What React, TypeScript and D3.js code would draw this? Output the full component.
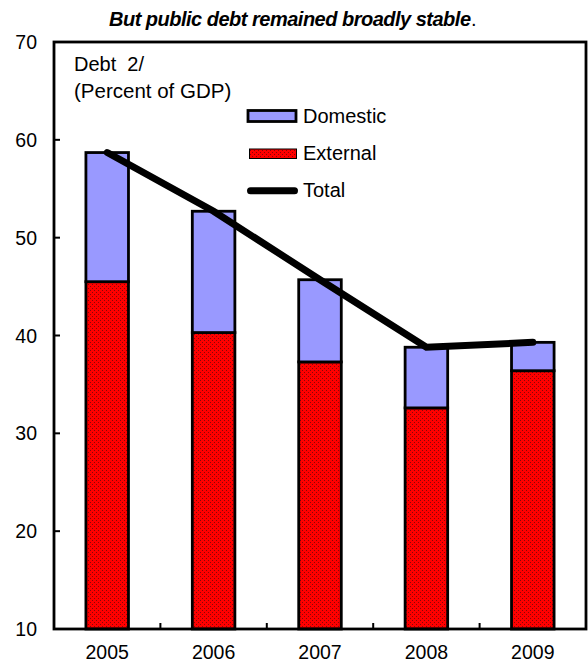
import React from "react";
import * as d3 from "d3";

// Public debt, percent of GDP
const years = ["2005", "2006", "2007", "2008", "2009"];
const externalDebt = [45.5, 40.3, 37.3, 32.6, 36.4];
const domesticDebt = [13.2, 12.4, 8.4, 6.2, 2.9];
const yTicks = [10, 20, 30, 40, 50, 60, 70];

const titleText = "But public debt remained broadly stable";
const axisTitle1 = "Debt  2/";
const axisTitle2 = "(Percent of GDP)";
const legendLabels = ["Domestic", "External", "Total"];

const W = 588;
const H = 664;
const FONT = "'Liberation Sans', Arial, Helvetica, sans-serif";
const BLUE = "#9999FF";
const RED = "#FF0000";

export default function App() {
  const left = 54;
  const right = 586;
  const top = 42;
  const bottom = 629;

  const x = d3.scaleBand<string>().domain(years).range([left, right]).padding(0);
  const y = d3.scaleLinear().domain([10, 70]).range([bottom, top]);

  const barW = x.bandwidth() * 0.4;
  const totals = years.map((_, i) => externalDebt[i] + domesticDebt[i]);

  const line = d3
    .line<number>()
    .x((_, i) => (x(years[i]) as number) + x.bandwidth() / 2)
    .y((d) => y(d));

  return (
    <svg width={W} height={H} style={{ display: "block", position: "absolute", left: 0, top: 0 }}>
      <defs>
        <pattern id="dots" patternUnits="userSpaceOnUse" width={4} height={4}>
          <rect width={4} height={4} fill={RED} />
          <rect x={0} y={0} width={1} height={1} fill="#101010" opacity={0.5} />
          <rect x={2} y={2} width={1} height={1} fill="#101010" opacity={0.5} />
        </pattern>
      </defs>
      <rect width={W} height={H} fill="#fff" />

      {/* title */}
      <text
        x={290}
        y={26}
        textAnchor="middle"
        fontFamily={FONT}
        fontSize={20}
        fontWeight="bold"
        fontStyle="italic"
        textLength={362}
      >
        {titleText}
      </text>
      <text x={471} y={26} fontFamily={FONT} fontSize={20}>.</text>

      {/* bars */}
      {years.map((yr, i) => {
        const cx = (x(yr) as number) + x.bandwidth() / 2;
        const ext = externalDebt[i];
        const tot = ext + domesticDebt[i];
        return (
          <g key={yr}>
            <rect
              x={cx - barW / 2}
              y={y(ext)}
              width={barW}
              height={y(10) - y(ext)}
              fill="url(#dots)"
              stroke="#000"
              strokeWidth={2.8}
            />
            <rect
              x={cx - barW / 2}
              y={y(tot)}
              width={barW}
              height={y(ext) - y(tot)}
              fill={BLUE}
              stroke="#000"
              strokeWidth={2.8}
            />
          </g>
        );
      })}

      {/* total line */}
      <path
        d={line(totals) || ""}
        fill="none"
        stroke="#000"
        strokeWidth={7}
        strokeLinecap="round"
        strokeLinejoin="miter"
      />

      {/* frame */}
      <rect x={left} y={top} width={right - left} height={bottom - top} fill="none" stroke="#000" strokeWidth={2.8} />

      {/* y ticks and labels */}
      {yTicks.map((t) => (
        <g key={t}>
          {t > 10 && t < 70 && (
            <line x1={left} x2={left + 6} y1={y(t)} y2={y(t)} stroke="#000" strokeWidth={2} />
          )}
          <text
            x={37}
            y={y(t) + 7}
            textAnchor="end"
            fontFamily={FONT}
            fontSize={19.5}
          >
            {t}
          </text>
        </g>
      ))}

      {/* x ticks and labels */}
      {years.slice(1).map((yr) => (
        <line
          key={"t" + yr}
          x1={x(yr) as number}
          x2={x(yr) as number}
          y1={bottom}
          y2={bottom - 6}
          stroke="#000"
          strokeWidth={2}
        />
      ))}
      {years.map((yr) => (
        <text
          key={"l" + yr}
          x={(x(yr) as number) + x.bandwidth() / 2}
          y={659}
          textAnchor="middle"
          fontFamily={FONT}
          fontSize={19.5}
        >
          {yr}
        </text>
      ))}

      {/* axis title */}
      <text x={74} y={71} fontFamily={FONT} fontSize={20} style={{ whiteSpace: "pre" }}>
        {axisTitle1}
      </text>
      <text x={74} y={98} fontFamily={FONT} fontSize={20.5}>
        {axisTitle2}
      </text>

      {/* legend */}
      <rect x={248} y={110.5} width={48} height={11} fill={BLUE} stroke="#000" strokeWidth={2.8} />
      <text x={303} y={123} fontFamily={FONT} fontSize={20}>{legendLabels[0]}</text>

      <rect x={249.5} y={149} width={47} height={9.5} fill="url(#dots)" stroke="#000" strokeWidth={1} />
      <text x={303} y={160} fontFamily={FONT} fontSize={20}>{legendLabels[1]}</text>

      <line x1={250.5} x2={294.5} y1={190.7} y2={190.7} stroke="#000" strokeWidth={7} strokeLinecap="round" />
      <text x={303} y={197} fontFamily={FONT} fontSize={20}>{legendLabels[2]}</text>
    </svg>
  );
}
